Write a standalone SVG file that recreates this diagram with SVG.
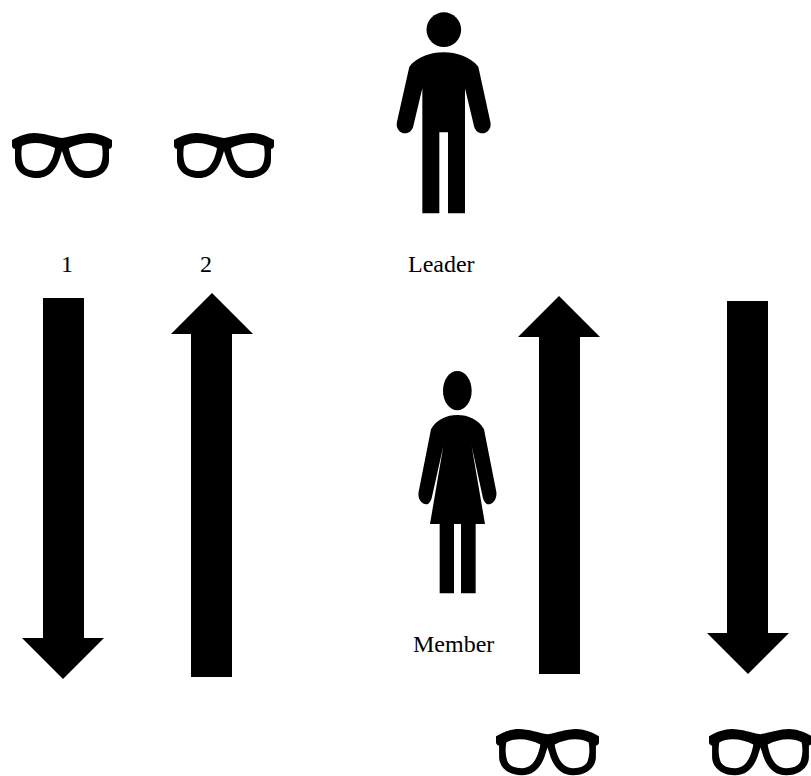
<svg xmlns="http://www.w3.org/2000/svg" width="811" height="776" viewBox="0 0 811 776">
<style>
text{font-family:"Liberation Serif","Times New Roman",serif;font-size:24px;fill:#000}
.a{fill:#000}
</style>
<defs>
<path id="g" fill-rule="evenodd" d="M0,7 C7,3 15,0 22,0 C32,0 42,4 50,5 C58,4 68,0 78,0 C85,0 93,3 100,7 L100,13 C100,15 98,16 97,16 L97,27 C97,38 87,45 75,45 C62,45 55,35 52,24 L50,18 L48,24 C45,35 38,45 25,45 C13,45 3,38 3,27 L3,16 C2,16 0,15 0,13 Z M10,13 C14,11 18,10 23,10 C30,10 37,12 43,15 C42,22 39,30 35,34 C32,37 28,38 25,38 C18,38 13,36 11,31 C9,25 9,19 10,13 Z M90,13 C86,11 82,10 77,10 C70,10 63,12 57,15 C58,22 61,30 65,34 C68,37 72,38 75,38 C82,38 87,36 89,31 C91,25 91,19 90,13 Z"/>
</defs>
<g id="glasses-1"><use href="#g" transform="translate(12,133)"/></g>
<g id="glasses-2"><use href="#g" transform="translate(174,133)"/></g>
<g id="glasses-3"><use href="#g" transform="translate(496,729) scale(1.03)"/></g>
<g id="glasses-4"><use href="#g" transform="translate(709,729) scale(1.03)"/></g>
<g id="leader" transform="translate(380,0) scale(.3333)">
<circle cx="191.500" cy="89" r="52"/>
<path d="M191,157 C230,157 270,170 295,200 L331,365 C336,385 322,400 307,400 C295,400 285,392 282,378 L255,265 L255,640 L204,640 L204,397 L178,397 L178,640 L127,640 L127,265 L100,378 C97,392 87,400 75,400 C60,400 46,385 51,365 L88,200 C112,170 152,157 191,157Z"/>
</g>
<g id="member" transform="translate(400,360) scale(.3333)">
<ellipse cx="172" cy="92" rx="43" ry="59"/>
<path d="M172,165 C205,165 235,178 252,208 L289,395 C292,415 280,433 265,433 C257,433 251,422 248,410 L215,258 L255,492 L227,492 L227,700 L183,700 L183,492 L162,492 L162,700 L119,700 L119,492 L90,492 L130,258 L96,410 C93,422 87,433 79,433 C64,433 52,415 56,395 L93,208 C110,178 140,165 172,165Z"/>
</g>
<g id="connectors">
<polygon class="a" points="43,298 84,298 84,638 104,638 63,679 22,638 43,638"/>
<polygon class="a" points="212,293 253,334 232,334 232,677 191,677 191,334 171,334"/>
<polygon class="a" points="559,296 600,337 580,337 580,674 539,674 539,337 518,337"/>
<polygon class="a" points="727,301 768,301 768,633 789,633 748,674 707,633 727,633"/>
</g>
<text x="61" y="272">1</text>
<text x="200" y="272">2</text>
<text x="408" y="272">Leader</text>
<text x="413" y="652">Member</text>
</svg>
